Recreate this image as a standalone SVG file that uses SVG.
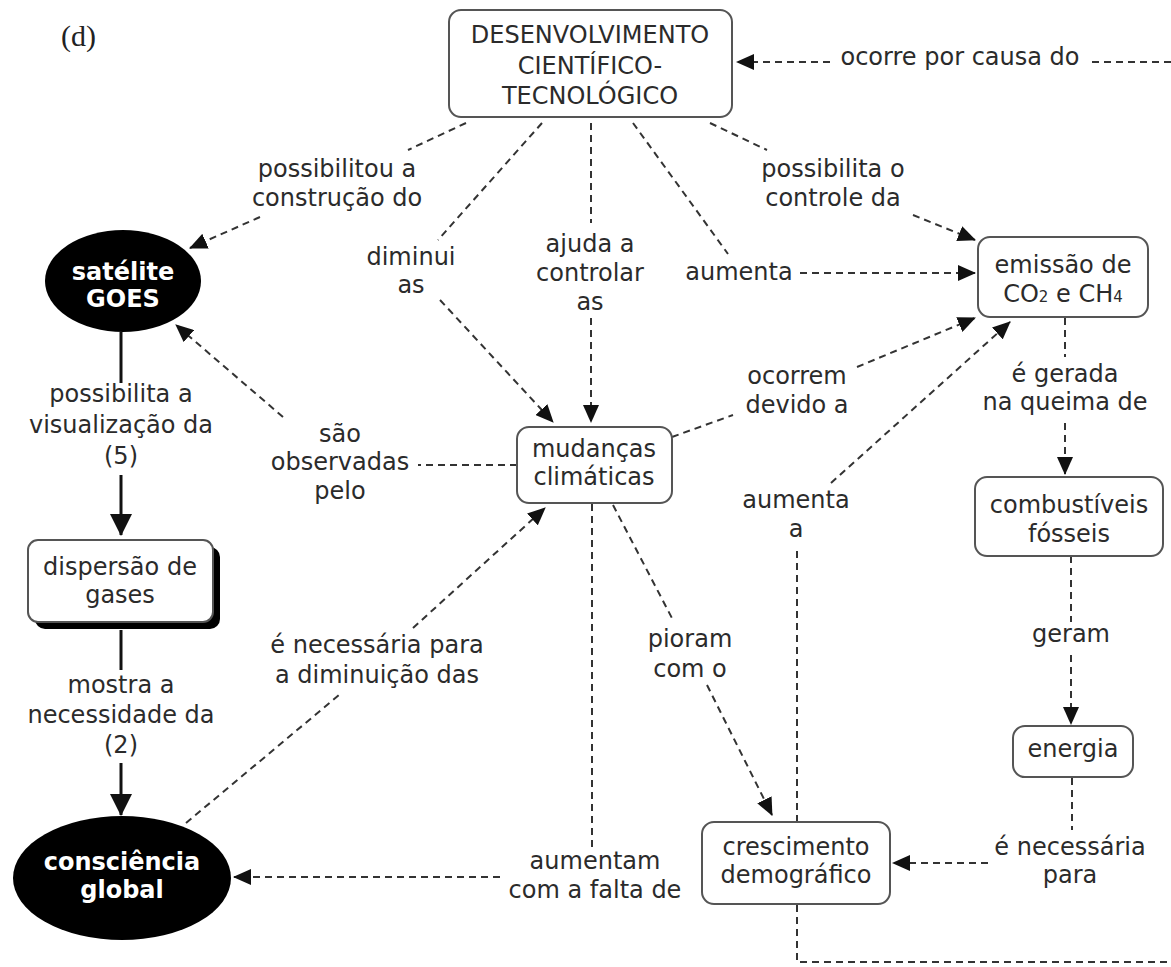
<svg xmlns="http://www.w3.org/2000/svg" width="1171" height="967" viewBox="0 0 1171 967">
<defs>
<style>
.t{font-family:"DejaVu Sans","Verdana",sans-serif;font-size:24px;fill:#2b2b2b;text-anchor:middle}
.w{font-family:"DejaVu Sans","Verdana",sans-serif;font-size:24px;font-weight:bold;fill:#fff;text-anchor:middle}
.box{fill:#fff;stroke:#555;stroke-width:2}
.d{fill:none;stroke:#333;stroke-width:2;stroke-dasharray:7,5}
.s{fill:none;stroke:#111;stroke-width:3}
.sub{font-size:15px}
</style>
<marker id="ad" viewBox="0 0 18 16" refX="17" refY="8" markerWidth="18" markerHeight="16" orient="auto" markerUnits="userSpaceOnUse"><path d="M0,0 L18,8 L0,16 z" fill="#111"/></marker>
<marker id="as" viewBox="0 0 22 22" refX="21" refY="11" markerWidth="22" markerHeight="22" orient="auto" markerUnits="userSpaceOnUse"><path d="M0,0 L22,11 L0,22 z" fill="#111"/></marker>
</defs>
<rect width="1171" height="967" fill="#fff"/>
<text x="61" y="46" font-family="Liberation Serif,serif" font-size="30" fill="#222">(d)</text>

<g id="connectors">
<path class="d" d="M466,123 L408,150"/>
<path class="d" d="M260,217 L190,248" marker-end="url(#ad)"/>
<path class="d" d="M542,123 L438,240"/>
<path class="d" d="M440,300 L553,422" marker-end="url(#ad)"/>
<path class="d" d="M591,123 L591,223"/>
<path class="d" d="M591,318 L591,422" marker-end="url(#ad)"/>
<path class="d" d="M633,123 L728,254"/>
<path class="d" d="M800,273 L975,273" marker-end="url(#ad)"/>
<path class="d" d="M710,123 L767,150"/>
<path class="d" d="M913,215 L975,240" marker-end="url(#ad)"/>
<path class="d" d="M672,437 L733,415"/>
<path class="d" d="M857,367 L975,318" marker-end="url(#ad)"/>
<path class="d" d="M797,822 L797,547"/>
<path class="d" d="M831,483 L1010,322" marker-end="url(#ad)"/>
<path class="d" d="M1065,318 L1065,357"/>
<path class="d" d="M1065,423 L1065,474" marker-end="url(#ad)"/>
<path class="d" d="M1071,556 L1071,622"/>
<path class="d" d="M1071,655 L1071,724" marker-end="url(#ad)"/>
<path class="d" d="M1072,778 L1072,830"/>
<path class="d" d="M988,863 L893,863" marker-end="url(#ad)"/>
<path class="d" d="M613,505 L674,622"/>
<path class="d" d="M707,685 L772,815" marker-end="url(#ad)"/>
<path class="d" d="M592,504 L592,848"/>
<path class="d" d="M500,877 L234,877" marker-end="url(#ad)"/>
<path class="d" d="M186,823 L339,695"/>
<path class="d" d="M413,628 L545,508" marker-end="url(#ad)"/>
<path class="d" d="M517,465 L418,465"/>
<path class="d" d="M283,417 L176,325" marker-end="url(#ad)"/>
<path class="s" d="M121,332 L121,383"/>
<path class="s" d="M121,475 L121,535" marker-end="url(#as)"/>
<path class="s" d="M121,630 L121,670"/>
<path class="s" d="M121,763 L121,815" marker-end="url(#as)"/>
<path class="d" d="M1171,62 L1090,62"/>
<path class="d" d="M830,62 L737,62" marker-end="url(#ad)"/>
<path class="d" d="M797,905 L797,962 L1171,962"/>
<g class="t">
<text x="337" y="177">possibilitou a</text>
<text x="337" y="206">construção do</text>
<text x="411" y="265">diminui</text>
<text x="411" y="293">as</text>
<text x="590" y="252">ajuda a</text>
<text x="590" y="281">controlar</text>
<text x="590" y="310">as</text>
<text x="739" y="280">aumenta</text>
<text x="833" y="177">possibilita o</text>
<text x="833" y="206">controle da</text>
<text x="797" y="384">ocorrem</text>
<text x="797" y="413">devido a</text>
<text x="796" y="508">aumenta</text>
<text x="796" y="537">a</text>
<text x="1065" y="382">é gerada</text>
<text x="1065" y="410">na queima de</text>
<text x="1071" y="642">geram</text>
<text x="1070" y="855">é necessária</text>
<text x="1070" y="883">para</text>
<text x="690" y="647">pioram</text>
<text x="690" y="677">com o</text>
<text x="595" y="869">aumentam</text>
<text x="595" y="898">com a falta de</text>
<text x="377" y="653">é necessária para</text>
<text x="377" y="683">a diminuição das</text>
<text x="340" y="442">são</text>
<text x="340" y="470">observadas</text>
<text x="340" y="499">pelo</text>
<text x="121" y="402">possibilita a</text>
<text x="121" y="433">visualização da</text>
<text x="121" y="464">(5)</text>
<text x="121" y="693">mostra a</text>
<text x="121" y="723">necessidade da</text>
<text x="121" y="753">(2)</text>
<text x="960" y="65">ocorre por causa do</text>
</g>
</g>

<g id="n-desenvolvimento">
<rect class="box" x="449" y="10" width="283" height="107" rx="12"/>
<text class="t" x="590" y="43">DESENVOLVIMENTO</text>
<text class="t" x="590" y="74">CIENTÍFICO-</text>
<text class="t" x="590" y="104">TECNOLÓGICO</text>
</g>
<g id="n-satelite">
<ellipse cx="123" cy="281" rx="78" ry="51" fill="#000"/>
<text class="w" x="123" y="280">satélite</text>
<text class="w" x="123" y="307">GOES</text>
</g>
<g id="n-dispersao">
<rect x="35" y="547" width="185" height="82" rx="10" fill="#000"/>
<rect class="box" x="28" y="540" width="185" height="82" rx="10"/>
<text class="t" x="120" y="575">dispersão de</text>
<text class="t" x="120" y="603">gases</text>
</g>
<g id="n-consciencia">
<ellipse cx="122" cy="878" rx="109" ry="62" fill="#000"/>
<text class="w" x="122" y="870">consciência</text>
<text class="w" x="122" y="898">global</text>
</g>
<g id="n-mudancas">
<rect class="box" x="517" y="427" width="155" height="76" rx="12"/>
<text class="t" x="594" y="457">mudanças</text>
<text class="t" x="594" y="485">climáticas</text>
</g>
<g id="n-emissao">
<rect class="box" x="978" y="237" width="170" height="80" rx="12"/>
<text class="t" x="1063" y="273">emissão de</text>
<text class="t" x="1063" y="302">CO<tspan class="sub">2</tspan> e CH<tspan class="sub">4</tspan></text>
</g>
<g id="n-combustiveis">
<rect class="box" x="975" y="477" width="188" height="79" rx="12"/>
<text class="t" x="1069" y="513">combustíveis</text>
<text class="t" x="1069" y="542">fósseis</text>
</g>
<g id="n-energia">
<rect class="box" x="1013" y="726" width="120" height="51" rx="12"/>
<text class="t" x="1073" y="757">energia</text>
</g>
<g id="n-crescimento">
<rect class="box" x="702" y="822" width="188" height="82" rx="12"/>
<text class="t" x="796" y="855">crescimento</text>
<text class="t" x="796" y="883">demográfico</text>
</g>
</svg>
